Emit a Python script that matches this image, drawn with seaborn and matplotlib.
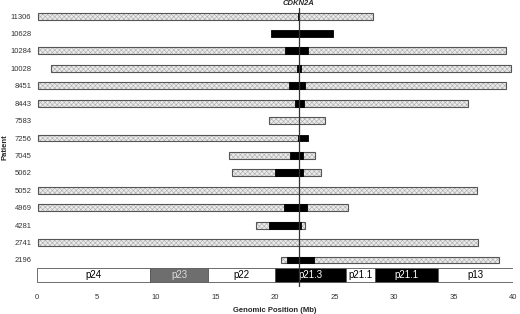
import numpy as np
import pandas as pd
import seaborn as sns
import matplotlib.pyplot as plt

# Patient rows, top to bottom
patients = ['11306', '10628', '10284', '10028', '8451', '8443', '7583', '7256',
            '7045', '5062', '5052', '4969', '4281', '2741', '2196']

# LOH (hatched) regions in Mb
loh_start = [0.1, np.nan, 0.1, 1.2, 0.1, 0.1, 19.5, 0.1, 16.1, 16.35, 0.1, 0.1, 18.4, 0.1, 20.5]
loh_end = [28.2, np.nan, 39.4, 39.8, 39.4, 36.25, 24.2, 21.9, 23.4, 23.9, 36.95, 26.1, 22.5, 37.1, 38.85]

# Deletion (black) regions in Mb
del_start = [21.9, 19.7, 20.8, 21.85, 21.2, 21.7, np.nan, 21.9, 21.25, 20.0, np.nan, 20.75, 19.5, np.nan, 21.05]
del_end = [22.05, 24.9, 22.75, 22.15, 22.55, 22.45, np.nan, 22.8, 22.35, 22.35, np.nan, 22.65, 22.2, np.nan, 23.3]

# Chromosome 9p ideogram bands
band_names = ['p24', 'p23', 'p22', 'p21.3', 'p21.1', 'p21.1', 'p13']
band_start = [0, 9.5, 14.4, 20.0, 26.0, 28.4, 33.7]
band_end = [9.5, 14.4, 20.0, 26.0, 28.4, 33.7, 40.0]
band_fill = ['white', '#6e6e6e', 'white', 'black', 'white', 'black', 'white']

cdkn2a_pos = 22.0

df = pd.DataFrame({'patient': patients, 'loh_start': loh_start, 'loh_end': loh_end,
                   'del_start': del_start, 'del_end': del_end})
df['row'] = np.arange(len(df))

sns.set_theme(style='white')
plt.rcParams['font.family'] = ['Liberation Sans', 'DejaVu Sans']
plt.rcParams['hatch.color'] = '#ababab'
plt.rcParams['hatch.linewidth'] = 0.4

fig = plt.figure(figsize=(5.2, 3.14), dpi=100)
ax = fig.add_axes([37 / 520, 1 - 287 / 314, 476 / 520, 279 / 314])

bar_h = 0.4
loh = df.dropna(subset=['loh_start'])
ax.barh(loh['row'], loh['loh_end'] - loh['loh_start'], left=loh['loh_start'], height=bar_h,
        color='#ebebeb', hatch='xxxxxxx', edgecolor='#ababab', linewidth=0)
ax.barh(loh['row'], loh['loh_end'] - loh['loh_start'], left=loh['loh_start'], height=bar_h,
        fill=False, edgecolor='#555555', linewidth=0.8)

dels = df.dropna(subset=['del_start'])
ax.barh(dels['row'], dels['del_end'] - dels['del_start'], left=dels['del_start'], height=bar_h,
        color='black', edgecolor='black', linewidth=0.6, zorder=3)

# ideogram
ideo_y = 14.87
for name, s, e, c in zip(band_names, band_start, band_end, band_fill):
    ax.barh(ideo_y, e - s, left=s, height=0.8, color=c, edgecolor='#555555', linewidth=0.6, zorder=3)
    tc = 'black' if c == 'white' else ('#dddddd' if c == '#6e6e6e' else 'white')
    ax.text((s + e) / 2, ideo_y, name, ha='center', va='center', fontsize=7, color=tc, zorder=4)

ax.axvline(cdkn2a_pos, color='#333333', linewidth=0.9, zorder=5)
ax.annotate('CDKN2A', xy=(cdkn2a_pos, 1), xycoords=('data', 'axes fraction'),
            xytext=(0, 0.5), textcoords='offset points', ha='center', va='bottom',
            fontsize=5.5, fontweight='bold', fontstyle='italic')

ax.set_xlim(0, 40)
ax.set_ylim(15.55, -0.46)
ax.set_xticks(range(0, 41, 5))
ax.set_yticks(df['row'])
ax.set_yticklabels(df['patient'])
ax.tick_params(axis='both', length=0, labelsize=5.5, colors='#333333')
ax.tick_params(axis='y', pad=4)
ax.tick_params(axis='x', pad=5)
for sp in ax.spines.values():
    sp.set_visible(False)
ax.set_xlabel('Genomic Position (Mb)', fontsize=5.5, fontweight='bold', labelpad=4)
ax.set_ylabel('Patient', fontsize=5.5, fontweight='bold', labelpad=1)
ax.grid(False)

fig.savefig('out.png', dpi=100)
